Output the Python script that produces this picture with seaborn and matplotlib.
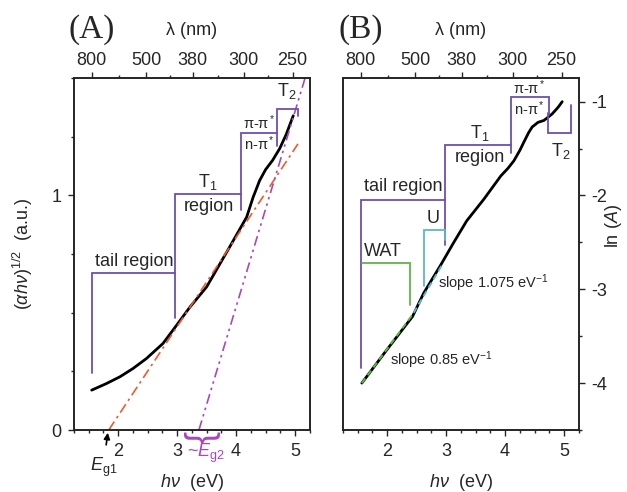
import numpy as np
import pandas as pd
import seaborn as sns
import matplotlib.pyplot as plt
from matplotlib.ticker import MultipleLocator, FixedLocator

sns.set_style("ticks")
plt.rcParams['font.family'] = ['Liberation Sans', 'DejaVu Sans']
plt.rcParams['mathtext.fontset'] = 'custom'
plt.rcParams['mathtext.rm'] = 'Liberation Sans'
plt.rcParams['mathtext.it'] = 'Liberation Sans:italic'
plt.rcParams['mathtext.default'] = 'regular'
plt.rcParams['axes.unicode_minus'] = False

# ---------- data ----------
# panel A: (alpha h nu)^1/2 vs photon energy
energy_a = [1.55, 1.80, 2.03, 2.25, 2.48, 2.76, 2.93, 3.22, 3.50, 3.89, 4.18, 4.29,
            4.40, 4.50, 4.62, 4.74, 4.85, 4.97]
tauc_a = [0.170, 0.198, 0.227, 0.262, 0.305, 0.369, 0.426, 0.525, 0.610, 0.780, 0.908,
          0.993, 1.064, 1.110, 1.150, 1.200, 1.260, 1.340]

# panel B: ln(A) vs photon energy
energy_b = [1.57, 2.00, 2.43, 2.62, 2.90, 3.13, 3.35, 3.64, 3.93, 4.05, 4.15, 4.25,
            4.32, 4.40, 4.46, 4.56, 4.66, 4.80, 4.90, 4.97]
ln_abs_b = [-4.00, -3.64, -3.29, -3.04, -2.75, -2.50, -2.27, -2.04, -1.79, -1.71,
            -1.63, -1.52, -1.43, -1.33, -1.27, -1.22, -1.20, -1.13, -1.06, -1.00]

# linear fits
fit_eg1_x = [1.84, 5.05]
fit_eg1_y = [0.0, 1.22]
fit_eg2_x = [3.37, 5.17]
fit_eg2_y = [0.0, 1.50]
fit_wat_x = [1.57, 2.43]
fit_wat_y = [-4.00, -3.27]
fit_u_x = [2.45, 2.95]
fit_u_y = [-3.25, -2.72]

# top axis
wavelengths = [800, 500, 380, 300, 250]

# region brackets (energy, value)
tail_a = ([1.55, 1.55, 2.96, 2.96], [0.241, 0.67, 0.67, 0.477])
t1_a = ([2.96, 2.96, 4.08, 4.08], [0.67, 1.007, 1.007, 0.936])
npi_a = ([4.08, 4.08, 4.70, 4.70], [1.007, 1.265, 1.265, 1.213])
t2_a = ([4.70, 4.70, 5.05, 5.05], [1.265, 1.369, 1.369, 1.34])

tail_b = ([1.55, 1.55, 2.98, 2.98], [-3.84, -2.05, -2.05, -2.53])
t1_b = ([2.98, 2.98, 4.10, 4.10], [-2.05, -1.46, -1.46, -1.55])
npi_b = ([4.10, 4.10, 4.74, 4.74], [-1.46, -0.95, -0.95, -1.14])
t2_b = ([4.73, 4.73, 5.12, 5.12], [-1.12, -1.33, -1.33, -1.04])
wat_b = ([1.57, 2.39, 2.39], [-2.72, -2.72, -3.17])
u_b = ([2.62, 2.62, 2.98, 2.98], [-2.97, -2.37, -2.37, -2.47])

PURPLE = '#6b4fb5'
RED = '#ec5a2e'
MAGENTA = '#a848b8'
GREEN = '#5db546'
CYAN = '#5ab8c8'
FS = 13

fig = plt.figure(figsize=(6.27, 4.92), dpi=100)
ax_a = fig.add_axes([0.118, 0.126, 0.376, 0.715])
ax_b = fig.add_axes([0.547, 0.126, 0.376, 0.715])


def style_axis(ax):
    ax.set_xlim(1.25, 5.25)
    ax.xaxis.set_major_locator(FixedLocator([2, 3, 4, 5]))
    ax.xaxis.set_minor_locator(MultipleLocator(0.25))
    ax.tick_params(which='major', direction='out', length=4, width=1, labelsize=FS, pad=5)
    ax.tick_params(which='minor', direction='out', length=2.5, width=1)
    for s in ax.spines.values():
        s.set_linewidth(1.1)
        s.set_color('black')
    ax.set_xlabel(r"$\mathit{h\nu}$  (eV)", fontsize=FS, labelpad=9)
    top = ax.twiny()
    top.set_xlim(ax.get_xlim())
    pos = [1240 / w for w in wavelengths]
    top.set_xticks(pos)
    top.set_xticklabels([str(w) for w in wavelengths])
    top.xaxis.set_minor_locator(FixedLocator([(pos[i] + pos[i + 1]) / 2 for i in range(len(pos) - 1)]))
    top.tick_params(which='major', direction='out', length=4, width=1, labelsize=FS, pad=3)
    top.tick_params(which='minor', direction='out', length=2.5, width=1)
    top.set_xlabel("λ (nm)", fontsize=FS, labelpad=12)
    for s in top.spines.values():
        s.set_linewidth(1.1)
    return top


def bracket(ax, path, color):
    ax.plot(path[0], path[1], color=color, lw=1.3, solid_joinstyle='miter')


# ---------- panel A ----------
sns.lineplot(x=energy_a, y=tauc_a, ax=ax_a, color='black', lw=2.0, sort=False, estimator=None)
ax_a.plot(fit_eg1_x, fit_eg1_y, color=RED, lw=1.2, linestyle=(0, (6, 2.5, 1.5, 2.5)))
ax_a.plot(fit_eg2_x, fit_eg2_y, color=MAGENTA, lw=1.2, linestyle=(0, (6, 2.5, 1.5, 2.5, 1.5, 2.5)))
for p in (tail_a, t1_a, npi_a, t2_a):
    bracket(ax_a, p, PURPLE)
ax_a.set_ylim(0, 1.5)
style_axis(ax_a)
ax_a.yaxis.set_major_locator(FixedLocator([0, 1]))
ax_a.yaxis.set_minor_locator(MultipleLocator(0.25))
ax_a.set_ylabel(r"$(\mathit{\alpha h\nu})^{1/2}$  (a.u.)", fontsize=FS, labelpad=12)

ax_a.text(2.28, 0.72, "tail region", fontsize=FS, ha='center', va='center')
ax_a.text(3.52, 1.057, "T$_1$", fontsize=FS, ha='center', va='center')
ax_a.text(3.54, 0.953, "region", fontsize=FS, ha='center', va='center')
ax_a.text(4.39, 1.31, "π-π$^*$", fontsize=10.5, ha='center', va='center')
ax_a.text(4.39, 1.22, "n-π$^*$", fontsize=10.5, ha='center', va='center')
ax_a.text(4.86, 1.447, "T$_2$", fontsize=FS, ha='center', va='center')

ax_a.annotate('', xy=(1.83, 0.0), xytext=(1.79, -0.075), annotation_clip=False,
              arrowprops=dict(arrowstyle='-|>', color='black', lw=1.2, mutation_scale=9))
ax_a.text(1.76, -0.16, r"$\mathit{E}_{g1}$", fontsize=FS, ha='center', va='center')
ax_a.text(3.39, -0.03, "}", fontsize=27, color=MAGENTA, rotation=-90,
          ha='center', va='center', clip_on=False)
ax_a.text(3.49, -0.1, r"~$\mathit{E}_{g2}$", fontsize=FS, color=MAGENTA, ha='center', va='center')

# ---------- panel B ----------
sns.lineplot(x=energy_b, y=ln_abs_b, ax=ax_b, color='black', lw=2.0, sort=False, estimator=None)
ax_b.plot(fit_wat_x, fit_wat_y, color=GREEN, lw=1.4, linestyle=(0, (3, 2)))
ax_b.plot(fit_u_x, fit_u_y, color=CYAN, lw=1.4, linestyle=(0, (3, 2)))
for p in (tail_b, t1_b, npi_b, t2_b):
    bracket(ax_b, p, PURPLE)
bracket(ax_b, wat_b, GREEN)
bracket(ax_b, u_b, CYAN)
ax_b.set_ylim(-4.5, -0.75)
style_axis(ax_b)
ax_b.yaxis.tick_right()
ax_b.yaxis.set_label_position('right')
ax_b.yaxis.set_major_locator(FixedLocator([-4, -3, -2, -1]))
ax_b.yaxis.set_minor_locator(MultipleLocator(0.5))
ax_b.tick_params(axis='y', which='both', left=False, right=True)
ax_b.set_ylabel(r"ln ($\mathit{A}$)", fontsize=FS, labelpad=6)
ax_b.yaxis.set_label_coords(1.105, 0.58)

ax_b.text(2.27, -1.90, "tail region", fontsize=FS, ha='center', va='center')
ax_b.text(3.57, -1.33, "T$_1$", fontsize=FS, ha='center', va='center')
ax_b.text(3.58, -1.60, "region", fontsize=FS, ha='center', va='center')
ax_b.text(4.42, -0.85, "π-π$^*$", fontsize=10.5, ha='center', va='center')
ax_b.text(4.42, -1.07, "n-π$^*$", fontsize=10.5, ha='center', va='center')
ax_b.text(4.95, -1.53, "T$_2$", fontsize=FS, ha='center', va='center')
ax_b.text(1.93, -2.60, "WAT", fontsize=FS, ha='center', va='center')
ax_b.text(2.78, -2.25, "U", fontsize=FS, ha='center', va='center')
ax_b.text(2.87, -2.93, "slope 1.075 eV$^{-1}$", fontsize=10.5, ha='left', va='center')
ax_b.text(2.05, -3.76, "slope 0.85 eV$^{-1}$", fontsize=10.5, ha='left', va='center')

fig.text(0.147, 0.94, "(A)", fontsize=24, family='Liberation Serif', ha='center', va='center')
fig.text(0.576, 0.94, "(B)", fontsize=24, family='Liberation Serif', ha='center', va='center')

fig.savefig("out.png", dpi=100, facecolor='white')
